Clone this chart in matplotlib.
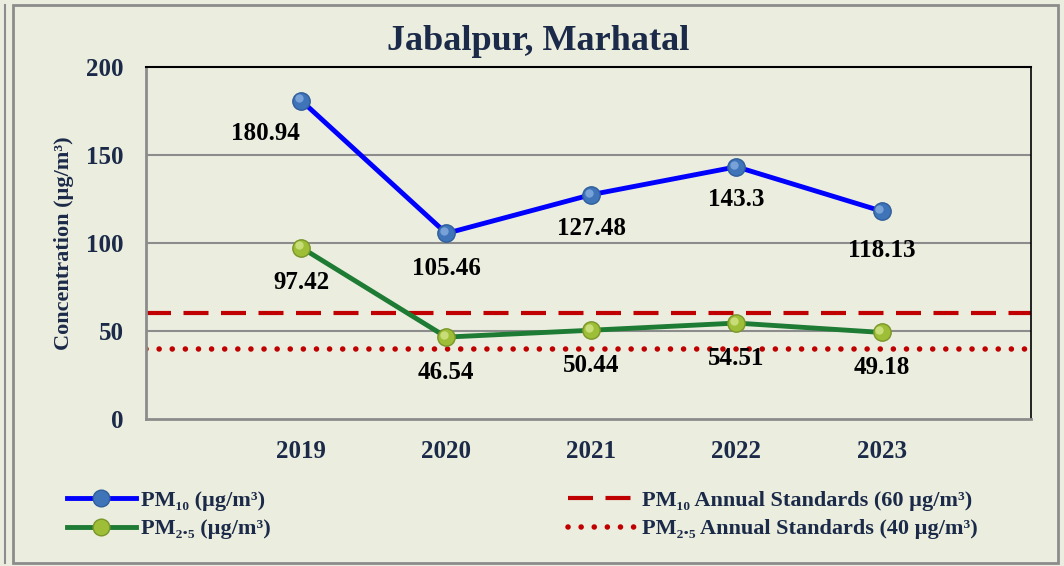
import numpy as np
import matplotlib.pyplot as plt
from matplotlib.patches import Rectangle
from matplotlib.lines import Line2D
from matplotlib.transforms import offset_copy

plt.rcParams['font.family'] = ['Liberation Serif', 'DejaVu Serif']
plt.rcParams['font.weight'] = 'bold'

# data
years = ['2019', '2020', '2021', '2022', '2023']
pm10 = [180.94, 105.46, 127.48, 143.3, 118.13]
pm25 = [97.42, 46.54, 50.44, 54.51, 49.18]
pm10_std = 60
pm25_std = 40

bg = '#EBEEDF'
navy = '#1B2A48'

fig = plt.figure(figsize=(10.64, 5.66), dpi=100, facecolor=bg)
# frame around the chart
fig.patches.append(Rectangle((13/1064, 3/566), 1045/1064, 558/566, transform=fig.transFigure,
                             fill=False, edgecolor='#8C8C8C', lw=2))
fig.add_artist(Line2D([5/1064, 5/1064], [3/566, 561/566], transform=fig.transFigure,
                      color='#8C8C8C', lw=1.5))

ax = fig.add_axes([146/1064, 1 - 419/566, 885/1064, 352/566])
ax.set_facecolor(bg)
x = np.arange(len(years))

for v in [50, 100, 150]:
    ax.axhline(v, color='#8C8C8C', lw=1.5, zorder=1)

ax.axhline(pm10_std, color='#C00000', lw=3, dashes=(6, 3), zorder=2)
ax.axhline(pm25_std, color='#C00000', lw=4, dashes=(0.01, 2.35), dash_capstyle='round', zorder=2)

ax.plot(x, pm10, color='#0000FF', lw=3.5, marker='o', ms=12.5, mfc='#3F74B8', mec='#2F5E9C',
        mew=1, zorder=4)
ax.plot(x, pm25, color='#1E7B34', lw=3.5, marker='o', ms=12.5, mfc='#9EBE38', mec='#7A9628',
        mew=1, zorder=4)
# highlights for the sphere look
hl = offset_copy(ax.transData, fig=fig, x=-1.5, y=1.5, units='points')
ax.plot(x, pm10, ls='none', marker='o', ms=6, mfc='#86ADE0', mec='none', alpha=0.8,
        transform=hl, zorder=5)
ax.plot(x, pm25, ls='none', marker='o', ms=6, mfc='#D3E688', mec='none', alpha=0.8,
        transform=hl, zorder=5)

pm10_off = [(-36, -33), (0, -35), (0, -34), (0, -33), (0, -39)]
for xi, v, off in zip(x, pm10, pm10_off):
    ax.annotate(f'{v:g}', (xi, v), xytext=off, textcoords='offset pixels',
                ha='center', va='center', fontsize=18, fontweight='bold', color='black')
for xi, v in zip(x, pm25):
    ax.annotate(f'{v:g}', (xi, v), xytext=(0, -35), textcoords='offset pixels',
                ha='center', va='center', fontsize=18, fontweight='bold', color='black')

ax.set_xlim(-1.07, 5.03)
ax.set_ylim(0, 200)
ax.set_xticks(x)
ax.set_xticklabels(years)
ax.set_yticks([0, 50, 100, 150, 200])
ax.tick_params(axis='both', length=0, labelsize=18, labelcolor=navy)
ax.tick_params(axis='y', pad=16)
ax.tick_params(axis='x', pad=15)
for lab in ax.get_xticklabels() + ax.get_yticklabels():
    lab.set_fontweight('bold')

ax.spines['left'].set_color('#8C8C8C')
ax.spines['bottom'].set_color('#8C8C8C')
ax.spines['left'].set_linewidth(2)
ax.spines['bottom'].set_linewidth(2)
ax.spines['top'].set_color('black')
ax.spines['right'].set_color('black')
ax.spines['top'].set_linewidth(1.5)
ax.spines['right'].set_linewidth(1.2)

ax.set_ylabel('Concentration (µg/m³)', fontsize=16, fontweight='bold', color=navy)
ax.yaxis.set_label_coords(-0.081, 0.5)

fig.text(538/1064, 1 - 42/566, 'Jabalpur, Marhatal', ha='center', va='center',
         fontsize=26, fontweight='bold', color=navy)

h1 = Line2D([], [], color='#0000FF', lw=3.5, marker='o', ms=12, mfc='#3F74B8', mec='#2F5E9C')
h2 = Line2D([], [], color='#1E7B34', lw=3.5, marker='o', ms=12, mfc='#9EBE38', mec='#7A9628')
h3 = Line2D([], [], color='#C00000', lw=3, dashes=(6, 3))
h4 = Line2D([], [], color='#C00000', lw=4, dashes=(0.01, 2.35), dash_capstyle='round')

leg1 = fig.legend([h1, h2], ['PM₁₀ (µg/m³)', 'PM₂.₅ (µg/m³)'], loc='center left',
                  bbox_to_anchor=(47/1064, 1 - 515/566), frameon=False,
                  handlelength=3.1, handletextpad=0.25, labelspacing=0.35, labelcolor=navy,
                  prop={'weight': 'bold', 'size': 16})
leg2 = fig.legend([h3, h4], ['PM₁₀ Annual Standards (60 µg/m³)', 'PM₂.₅ Annual Standards (40 µg/m³)'],
                  loc='center left', bbox_to_anchor=(548/1064, 1 - 515/566), frameon=False,
                  handlelength=3.1, handletextpad=0.25, labelspacing=0.35, labelcolor=navy,
                  prop={'weight': 'bold', 'size': 16})

fig.savefig('out.png', dpi=100, facecolor=bg)
